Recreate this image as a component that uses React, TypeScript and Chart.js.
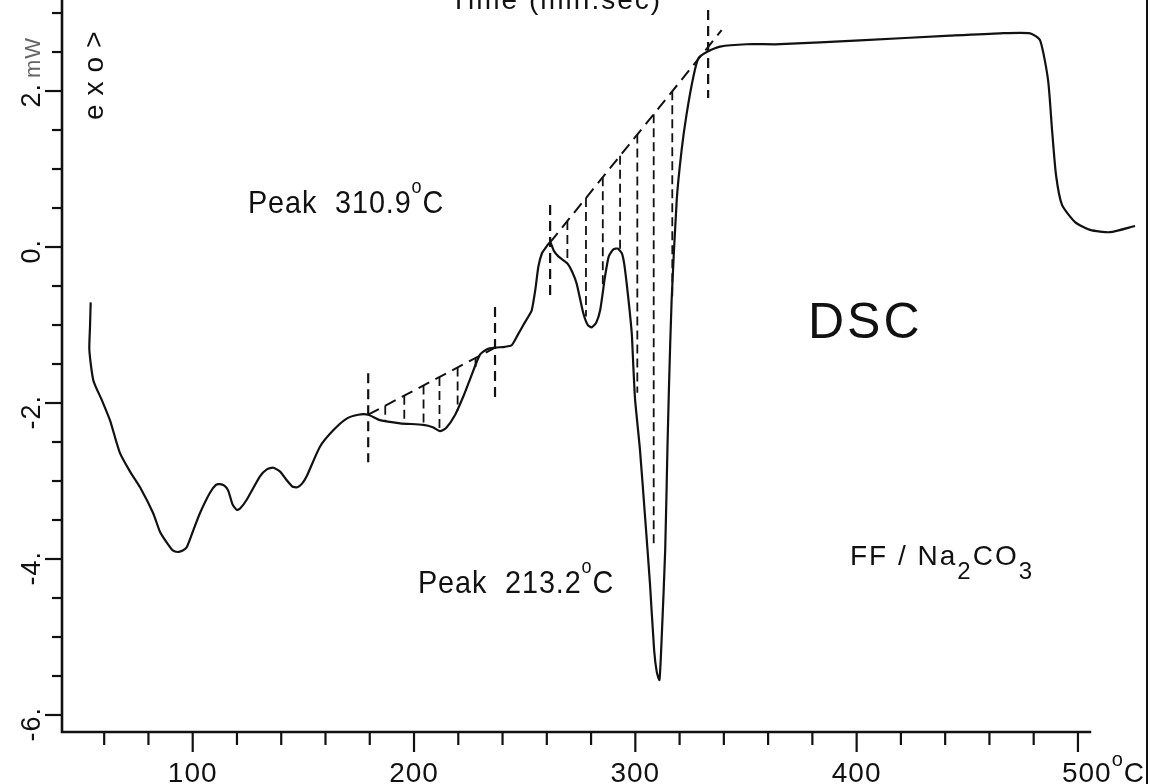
import React, { useEffect, useRef } from "react";
import { Chart, registerables } from "chart.js";

Chart.register(...registerables);

// DSC trace: temperature (°C) and heat flow (mW)
const curveTemp = [
  53.9, 53.6, 53.3, 55.1, 58.9, 62.6, 67.1, 71.7, 76.2, 82.1, 85.2, 88.3, 91.0, 93.2, 95.5, 97.3,
  100.3, 103.3, 107.8, 110.5, 112.3, 114.3, 116.0, 118.0, 119.9, 121.5, 124.4, 130.4, 133.5, 136.4,
  139.5, 142.5, 145.0, 147.3, 149.5, 151.5, 157.5, 163.5, 169.6, 174.8, 179.3, 184.6, 193.7, 204.2,
  208.5, 211.7, 214.5, 218.6, 222.5, 225.5, 229.8, 233.0, 236.6, 241.0, 244.1, 247.0, 249.4, 251.5,
  253.2, 254.8, 256.2, 257.8, 259.2, 261.5, 263.2, 265.2, 269.3, 271.5, 273.5, 276.5, 278.5, 280.3,
  282.3, 284.1, 286.3, 288.0, 290.1, 292.0, 293.9, 295.0, 296.1, 297.3, 298.4, 299.1, 299.9, 302.1,
  304.4, 306.6, 308.5, 309.7, 310.9, 312.0, 313.5, 314.5, 315.2, 316.4, 318.7, 320.9, 323.2, 326.2,
  328.5, 332.3, 338.3, 350.3, 365.4, 401.5, 442.2, 464.8, 478.4, 482.9, 486.5, 488.3, 490.1, 492.8,
  498.7, 505.5, 514.5, 525.8,
];
const curveMW = [
  -0.71, -1.02, -1.32, -1.71, -1.96, -2.22, -2.64, -2.88, -3.08, -3.41, -3.65, -3.79, -3.89, -3.91, -3.89, -3.85,
  -3.63, -3.41, -3.15, -3.05, -3.04, -3.06, -3.12, -3.30, -3.37, -3.35, -3.24, -2.94, -2.85, -2.83,
  -2.88, -2.99, -3.07, -3.08, -3.03, -2.94, -2.56, -2.35, -2.20, -2.15, -2.15, -2.22, -2.26, -2.28,
  -2.31, -2.36, -2.32, -2.15, -1.90, -1.68, -1.38, -1.31, -1.29, -1.28, -1.26, -1.12, -1.00, -0.90,
  -0.81, -0.55, -0.25, -0.08, -0.02, 0.06, -0.05, -0.12, -0.21, -0.32, -0.47, -0.85, -1.00, -1.03,
  -0.97, -0.81, -0.38, -0.12, -0.03, -0.02, -0.08, -0.22, -0.47, -0.78, -1.11, -1.53, -1.96, -2.60,
  -3.46, -4.31, -5.17, -5.45, -5.55, -4.95, -3.88, -2.60, -1.80, -0.68, 0.60, 1.24, 1.71, 2.18,
  2.42, 2.50, 2.57, 2.60, 2.60, 2.65, 2.71, 2.74, 2.74, 2.65, 2.14, 1.50, 0.92, 0.54,
  0.32, 0.22, 0.19, 0.27,
];

// construction baselines (dashed)
const baseline1Temp = [179.3, 236.6];
const baseline1MW = [-2.15, -1.29];
const baseline2Temp = [261.5, 339.0];
const baseline2MW = [0.06, 2.78];

// vertical limit markers (dashed)
const markerTemp = [179.3, 236.6, 261.5, 332.9];
const markerTop = [-1.62, -0.77, 0.54, 3.04];
const markerBottom = [-2.76, -1.96, -0.62, 1.91];

// hatching between baseline and trace
const hatch1Temp = [187.0, 195.6, 204.3, 211.5, 219.7, 227.8];
const hatch1Bottom = [-2.23, -2.26, -2.28, -2.36, -2.1, -1.55];
const hatch2Temp = [269.3, 277.7, 285.3, 293.1, 300.9, 308.3, 316.7];
const hatch2Bottom = [-0.21, -0.89, -0.51, -0.05, -1.87, -3.85, -0.68];

// axis ticks
const xTickValues = [60, 80, 100, 120, 140, 160, 180, 200, 220, 240, 260, 280, 300, 320, 340, 360, 380, 400, 420, 440, 460, 480, 500];
const xLabelValues = [100, 200, 300, 400];
const xTickLabels = ["100", "200", "300", "400"];
const yTickValues = [-6, -5.5, -5, -4.5, -4, -3.5, -3, -2.5, -2, -1.5, -1, -0.5, 0, 0.5, 1, 1.5, 2, 2.5, 3];
const yLabelValues = [2, 0, -2, -4, -6];
const yTickLabels = ["2.", "0.", "-2.", "-4.", "-6."];

const FONT = '"Liberation Sans", Arial, sans-serif';
const INK = "#111";

function baselineAt(t: number, T: number[], M: number[]) {
  return M[0] + ((t - T[0]) * (M[1] - M[0])) / (T[1] - T[0]);
}

type Part = [string, number, number]; // text, size, dy

function drawRich(ctx: CanvasRenderingContext2D, x: number, y: number, parts: Part[], spacing = 1, xScale = 1) {
  ctx.save();
  ctx.translate(x, y);
  ctx.scale(xScale, 1);
  let cx = 0;
  (ctx as any).letterSpacing = spacing + "px";
  ctx.textAlign = "left";
  ctx.textBaseline = "alphabetic";
  for (const [t, s, dy] of parts) {
    ctx.font = `${s}px ${FONT}`;
    ctx.fillText(t, cx, dy);
    cx += ctx.measureText(t).width;
  }
  ctx.restore();
}

const decorPlugin = {
  id: "dscDecor",
  afterDraw(chart: any) {
    const { ctx, chartArea, scales } = chart;
    const xs = scales.x;
    const ys = scales.y;
    ctx.save();
    ctx.strokeStyle = INK;
    ctx.fillStyle = INK;
    ctx.lineCap = "butt";

    // axes
    ctx.lineWidth = 2.6;
    ctx.beginPath();
    ctx.moveTo(chartArea.left, chartArea.top);
    ctx.lineTo(chartArea.left, chartArea.bottom);
    ctx.lineTo(xs.getPixelForValue(506), chartArea.bottom);
    ctx.stroke();
    // right border line of the sheet
    ctx.lineWidth = 2;
    ctx.beginPath();
    ctx.moveTo(chartArea.right, 0);
    ctx.lineTo(chartArea.right, chart.height);
    ctx.stroke();

    // y ticks
    ctx.lineWidth = 2.2;
    for (const v of yTickValues) {
      const py = ys.getPixelForValue(v);
      const len = yLabelValues.includes(v) ? 17 : 10;
      ctx.beginPath();
      ctx.moveTo(chartArea.left, py);
      ctx.lineTo(chartArea.left - len, py);
      ctx.stroke();
    }
    // x ticks
    for (const v of xTickValues) {
      const px = xs.getPixelForValue(v);
      const len = v % 100 === 0 ? 20 : 13;
      ctx.beginPath();
      ctx.moveTo(px, chartArea.bottom);
      ctx.lineTo(px, chartArea.bottom + len);
      ctx.stroke();
    }

    // x labels
    ctx.font = `28px ${FONT}`;
    ctx.textAlign = "center";
    ctx.textBaseline = "alphabetic";
    (ctx as any).letterSpacing = "1px";
    xLabelValues.forEach((v, i) => {
      ctx.fillText(xTickLabels[i], xs.getPixelForValue(v), 782);
    });
    const p500 = xs.getPixelForValue(500);
    drawRich(ctx, p500 - 16, 782, [["500", 28, 0], ["o", 20, -16], ["C", 28, 0]], 1);

    // y labels (rotated)
    yLabelValues.forEach((v, i) => {
      const py = ys.getPixelForValue(v);
      ctx.save();
      ctx.translate(40, py - 8);
      ctx.rotate(-Math.PI / 2);
      ctx.font = `27px ${FONT}`;
      (ctx as any).letterSpacing = "1px";
      ctx.textAlign = "right";
      ctx.fillText(yTickLabels[i], 0, 0);
      ctx.restore();
    });
    // unit
    ctx.save();
    ctx.translate(40, 78);
    ctx.rotate(-Math.PI / 2);
    ctx.font = `22px ${FONT}`;
    ctx.fillStyle = "#666";
    ctx.textAlign = "left";
    ctx.fillText("mW", 0, 0);
    ctx.restore();
    // exo >
    ctx.save();
    ctx.translate(103, 120);
    ctx.rotate(-Math.PI / 2);
    ctx.font = `28px ${FONT}`;
    (ctx as any).letterSpacing = "9px";
    ctx.textAlign = "left";
    ctx.fillText("exo>", 0, 0);
    ctx.restore();

    // partially cut title at top
    ctx.font = `28px ${FONT}`;
    (ctx as any).letterSpacing = "2px";
    ctx.textAlign = "left";
    ctx.fillText("Time (min.sec)", 450, 9);

    // annotations
    drawRich(ctx, 248, 213, [["Peak  310.9", 32, 0], ["o", 20, -20], ["C", 32, 0]], 1, 0.9);
    drawRich(ctx, 418, 593, [["Peak  213.2", 32, 0], ["o", 20, -20], ["C", 32, 0]], 1, 0.9);
    drawRich(ctx, 808, 338, [["DSC", 50, 0]], 3);
    drawRich(
      ctx,
      850,
      565,
      [["FF / Na", 28, 0], ["2", 24, 14], ["CO", 28, 0], ["3", 24, 14]],
      2
    );
    ctx.restore();
  },
};

export default function App() {
  const ref = useRef<HTMLCanvasElement | null>(null);

  useEffect(() => {
    if (!ref.current) return;
    const curve = curveTemp.map((t, i) => ({ x: t, y: curveMW[i] }));
    const base1 = baseline1Temp.map((t, i) => ({ x: t, y: baseline1MW[i] }));
    const base2 = baseline2Temp.map((t, i) => ({ x: t, y: baseline2MW[i] }));
    const markers: any[] = [];
    markerTemp.forEach((t, i) => {
      markers.push({ x: t, y: markerTop[i] }, { x: t, y: markerBottom[i] }, { x: t, y: null });
    });
    const hatch: any[] = [];
    hatch1Temp.forEach((t, i) => {
      hatch.push({ x: t, y: baselineAt(t, baseline1Temp, baseline1MW) }, { x: t, y: hatch1Bottom[i] }, { x: t, y: null });
    });
    hatch2Temp.forEach((t, i) => {
      hatch.push({ x: t, y: baselineAt(t, baseline2Temp, baseline2MW) }, { x: t, y: hatch2Bottom[i] }, { x: t, y: null });
    });

    const chart = new Chart(ref.current, {
      type: "line",
      data: {
        datasets: [
          { label: "DSC", data: curve, borderColor: INK, borderWidth: 2.2, pointRadius: 0, tension: 0.2, fill: false },
          { label: "baseline 1", data: base1, borderColor: INK, borderWidth: 2, borderDash: [12, 7], pointRadius: 0, tension: 0 },
          { label: "baseline 2", data: base2, borderColor: INK, borderWidth: 2, borderDash: [12, 7], pointRadius: 0, tension: 0 },
          { label: "limits", data: markers, borderColor: INK, borderWidth: 2.2, borderDash: [10, 6], pointRadius: 0, tension: 0, spanGaps: false },
          { label: "hatch", data: hatch, borderColor: INK, borderWidth: 1.8, borderDash: [9, 5], pointRadius: 0, tension: 0, spanGaps: false },
        ],
      },
      options: {
        responsive: false,
        animation: false,
        layout: { padding: { left: 62, right: 4, top: 0, bottom: 52 } },
        plugins: { legend: { display: false }, tooltip: { enabled: false } },
        scales: {
          x: { type: "linear", min: 40.94, max: 531.2, display: false },
          y: { type: "linear", min: -6.218, max: 3.167, display: false },
        },
      },
      plugins: [decorPlugin],
    });
    return () => chart.destroy();
  }, []);

  return (
    <div style={{ position: "fixed", left: 0, top: 0, width: 1151, height: 784, background: "#fff" }}>
      <canvas ref={ref} width={1151} height={784} style={{ width: 1151, height: 784, display: "block" }} />
    </div>
  );
}
